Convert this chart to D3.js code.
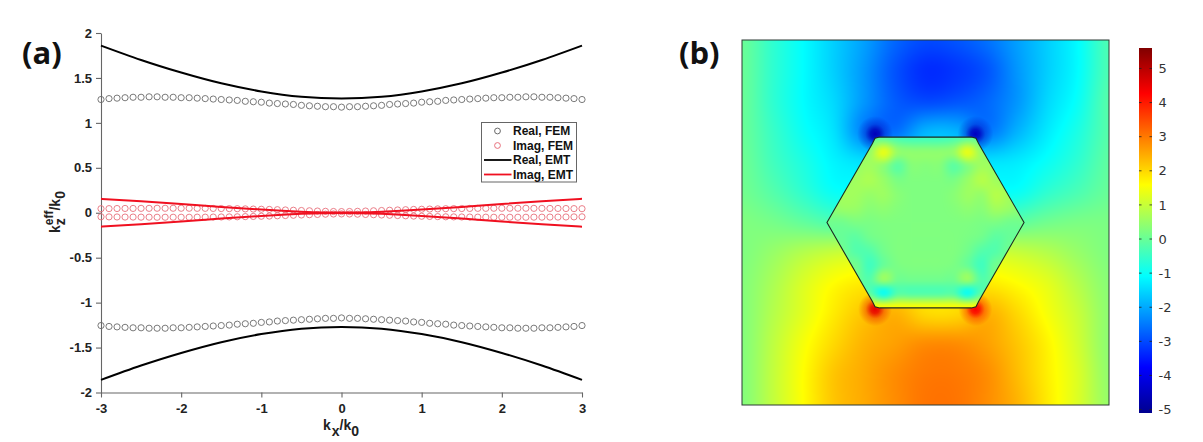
<!DOCTYPE html>
<html>
<head>
<meta charset="utf-8">
<script src="https://cdn.jsdelivr.net/npm/d3@7"></script>
<style>
html,body{margin:0;padding:0;background:#fff;overflow:hidden}
svg{display:block}
text{font-family:"Liberation Sans",Arial,sans-serif}
</style>
</head>
<body>
<svg id="chart" width="1203" height="442"></svg>
<script>
// ---------- panel (a) data ----------
const kxFem = [-3,-2.9,-2.8,-2.7,-2.6,-2.5,-2.4,-2.3,-2.2,-2.1,-2,-1.9,-1.8,-1.7,-1.6,-1.5,-1.4,-1.3,-1.2,-1.1,-1,-0.9,-0.8,-0.7,-0.6,-0.5,-0.4,-0.3,-0.2,-0.1,0,0.1,0.2,0.3,0.4,0.5,0.6,0.7,0.8,0.9,1,1.1,1.2,1.3,1.4,1.5,1.6,1.7,1.8,1.9,2,2.1,2.2,2.3,2.4,2.5,2.6,2.7,2.8,2.9,3];
const realFemUpper = [1.26,1.27,1.275,1.28,1.285,1.285,1.29,1.29,1.285,1.285,1.28,1.28,1.275,1.27,1.265,1.26,1.255,1.25,1.24,1.235,1.23,1.22,1.215,1.21,1.205,1.195,1.19,1.185,1.18,1.18,1.175,1.18,1.18,1.185,1.19,1.195,1.205,1.21,1.215,1.22,1.23,1.235,1.24,1.25,1.255,1.26,1.265,1.27,1.275,1.28,1.28,1.285,1.285,1.29,1.29,1.285,1.285,1.28,1.275,1.27,1.26];
const realFemLower = [-1.255,-1.265,-1.27,-1.275,-1.28,-1.28,-1.285,-1.285,-1.285,-1.28,-1.28,-1.275,-1.27,-1.265,-1.26,-1.255,-1.25,-1.24,-1.235,-1.23,-1.22,-1.215,-1.205,-1.2,-1.195,-1.19,-1.185,-1.18,-1.175,-1.175,-1.17,-1.175,-1.175,-1.18,-1.185,-1.19,-1.195,-1.2,-1.205,-1.215,-1.22,-1.23,-1.235,-1.24,-1.25,-1.255,-1.26,-1.265,-1.27,-1.275,-1.28,-1.28,-1.285,-1.285,-1.285,-1.28,-1.28,-1.275,-1.27,-1.265,-1.255];
const imagFemUpper = [0.045,0.046,0.047,0.048,0.048,0.049,0.049,0.05,0.05,0.05,0.05,0.05,0.049,0.049,0.048,0.047,0.046,0.045,0.043,0.041,0.039,0.037,0.034,0.031,0.028,0.025,0.022,0.019,0.016,0.014,0.013,0.014,0.016,0.019,0.022,0.025,0.028,0.031,0.034,0.037,0.039,0.041,0.043,0.045,0.046,0.047,0.048,0.049,0.049,0.05,0.05,0.05,0.05,0.05,0.049,0.049,0.048,0.048,0.047,0.046,0.045];
const imagFemLower = [-0.045,-0.046,-0.047,-0.048,-0.048,-0.049,-0.049,-0.05,-0.05,-0.05,-0.05,-0.05,-0.049,-0.049,-0.048,-0.047,-0.046,-0.045,-0.043,-0.041,-0.039,-0.037,-0.034,-0.031,-0.028,-0.025,-0.022,-0.019,-0.016,-0.014,-0.013,-0.014,-0.016,-0.019,-0.022,-0.025,-0.028,-0.031,-0.034,-0.037,-0.039,-0.041,-0.043,-0.045,-0.046,-0.047,-0.048,-0.049,-0.049,-0.05,-0.05,-0.05,-0.05,-0.05,-0.049,-0.049,-0.048,-0.048,-0.047,-0.046,-0.045];
const kxEmt = [-3,-2.5,-2,-1.5,-1,-0.5,0,0.5,1,1.5,2,2.5,3];
const realEmtUpper = [1.86,1.7,1.56,1.44,1.35,1.29,1.27,1.29,1.35,1.44,1.56,1.7,1.86];
const realEmtLower = [-1.86,-1.7,-1.56,-1.44,-1.35,-1.29,-1.27,-1.29,-1.35,-1.44,-1.56,-1.7,-1.86];
const imagEmtUpper = [0.155,0.127,0.097,0.065,0.035,0.012,0.002,0.012,0.035,0.065,0.097,0.127,0.155];
const imagEmtLower = [-0.155,-0.127,-0.097,-0.065,-0.035,-0.012,-0.002,-0.012,-0.035,-0.065,-0.097,-0.127,-0.155];
const xTicksA = [-3,-2,-1,0,1,2,3];
const yTicksA = [-2,-1.5,-1,-0.5,0,0.5,1,1.5,2];
const legendLabels = ["Real, FEM","Imag, FEM","Real, EMT","Imag, EMT"];

// ---------- panel (b) data ----------
// field outside the hexagon, rows top to bottom
const fieldOuter = [
[0.0,-0.6,-1.1,-1.6,-2.1,-2.7,-3.0,-2.9,-2.6,-2.1,-1.6,-1.1,-0.3],
[0.0,-0.6,-1.1,-1.6,-2.2,-2.9,-3.3,-3.2,-2.9,-2.2,-1.6,-1.1,-0.3],
[0.0,-0.6,-1.1,-1.5,-2.2,-2.8,-3.0,-2.9,-2.7,-2.2,-1.5,-1.0,-0.2],
[0.0,-0.5,-1.0,-1.4,-2.4,-2.6,-1.9,-1.9,-2.5,-1.9,-1.3,-0.8,-0.2],
[0.05,-0.4,-0.8,-1.2,-1.4,-1.4,-1.4,-1.4,-1.4,-1.3,-1.0,-0.6,-0.1],
[0.1,-0.2,-0.6,-1.0,-1.0,-1.0,-1.0,-1.0,-1.0,-1.0,-0.6,-0.3,0.0],
[0.25,0.15,-0.05,-0.25,-0.2,-0.2,-0.2,-0.2,-0.2,-0.1,0.1,0.2,0.2],
[0.25,0.5,0.8,1.0,1.1,1.1,1.1,1.1,1.1,1.0,0.8,0.5,0.25],
[0.3,0.7,1.2,1.6,1.8,1.8,1.8,1.8,1.8,1.6,1.3,0.8,0.35],
[0.3,0.8,1.3,1.8,2.2,2.4,2.0,2.0,2.4,2.0,1.5,1.0,0.4],
[0.3,0.9,1.5,2.0,2.4,2.6,2.8,2.8,2.6,2.2,1.7,1.1,0.4],
[0.3,0.95,1.6,2.2,2.5,2.8,3.0,3.0,2.8,2.3,1.75,1.2,0.45],
[0.3,0.95,1.6,2.2,2.5,2.8,3.05,3.05,2.8,2.4,1.8,1.2,0.5]
];
// field inside the hexagon, rows top to bottom
const fieldInner = [
[0.5,0.5,0.5,0.0,-0.1,-0.3,-0.4,-0.4,-0.4,-0.3,-0.1,0.0,0.5,0.5,0.5],
[0.5,0.5,0.5,0.5,1.3,0.5,0.4,0.4,0.4,0.5,1.3,0.5,0.5,0.5,0.5],
[0.5,0.5,0.5,0.6,0.4,-0.1,0.3,0.3,0.3,-0.1,0.3,0.6,0.5,0.5,0.5],
[0.5,0.5,0.6,0.7,0.5,0.2,0.25,0.25,0.25,0.2,0.5,0.8,0.6,0.5,0.5],
[0.5,0.6,0.6,0.5,0.55,0.35,0.25,0.25,0.25,0.35,0.55,0.5,0.8,0.6,0.5],
[0.3,0.5,0.5,0.35,0.4,0.3,0.25,0.25,0.25,0.3,0.4,0.35,0.6,0.5,0.3],
[0.1,0.1,0.2,0.2,0.25,0.25,0.25,0.25,0.25,0.25,0.25,0.2,0.2,0.1,0.1],
[0.0,0.0,-0.1,0.1,0.2,0.25,0.25,0.25,0.25,0.25,0.2,0.1,-0.1,0.0,0.0],
[0.1,0.1,-0.2,-0.2,0.1,0.25,0.25,0.25,0.25,0.25,0.1,-0.2,-0.2,0.1,0.1],
[0.1,0.1,0.1,-0.4,0.0,0.2,0.25,0.25,0.25,0.2,0.0,-0.4,0.1,0.1,0.1],
[0.1,0.1,0.1,-0.2,0.5,0.1,0.1,0.1,0.1,0.1,0.5,-0.2,0.1,0.1,0.1],
[0.1,0.1,0.1,-0.1,-0.9,-0.2,-0.2,-0.2,-0.2,-0.2,-0.9,-0.1,0.1,0.1,0.1],
[1.6,1.6,1.6,1.6,1.6,1.6,1.6,1.6,1.6,1.6,1.6,1.6,1.6,1.6,1.6]
];
const hexagon = [[-0.537,0],[-0.29,0.432],[-0.275,0.462],[-0.25,0.468],[0.25,0.468],[0.275,0.462],[0.29,0.432],[0.537,0],[0.29,-0.432],[0.275,-0.462],[0.25,-0.468],[-0.25,-0.468],[-0.275,-0.462],[-0.29,-0.432]];
const hotspotX = [-0.275,0.272,-0.275,0.272];
const hotspotY = [0.485,0.485,-0.475,-0.475];
const hotspotValue = [-4.6,-4.5,4.5,4.3];
const colorTicks = [-5,-4,-3,-2,-1,0,1,2,3,4,5];
const jetStops = [-5.1,-3.76,-2.43,-1.09,1.59,2.93,4.26,5.6];
const jetColors = ["#00008f","#0000ff","#0080ff","#00ffff","#ffff00","#ff8000","#ff0000","#800000"];
const panelLabels = ["(a)","(b)"];

const svg = d3.select("#chart");

// ---------- panel (a) ----------
const xA = d3.scaleLinear().domain([-3,3]).range([101,582]);
const yA = d3.scaleLinear().domain([-2,2]).range([392.5,33]);
const axisColor = "#666";
const tickText = "#222";

const axB = svg.append("g").attr("transform","translate(0,392.5)")
  .call(d3.axisBottom(xA).tickValues(xTicksA).tickSize(5).tickSizeOuter(0).tickFormat(d => String(d)));
const axL = svg.append("g").attr("transform","translate(101,0)")
  .call(d3.axisLeft(yA).tickValues(yTicksA).tickSize(5).tickSizeOuter(0).tickFormat(d => String(d)));
[axB,axL].forEach(a => {
  a.selectAll("path,line").attr("stroke",axisColor).attr("stroke-width",1.1);
  a.selectAll("text").attr("fill",tickText).attr("font-size",13).attr("font-weight","bold")
   .style("font-family",'"Liberation Sans",Arial,sans-serif');
});
axB.selectAll("text").attr("dy","0.71em").attr("y",11);
axL.selectAll("text").attr("x",-9);

function circles(values, color, cls){
  svg.append("g").attr("class",cls).selectAll("circle").data(values).join("circle")
    .attr("cx",(d,i)=>xA(kxFem[i])).attr("cy",d=>yA(d)).attr("r",3.1)
    .attr("fill","none").attr("stroke",color).attr("stroke-width",0.9);
}
const grayMarker = "#6a6a6a", pinkMarker = "#e8707c";
circles(realFemUpper,grayMarker,"real-fem");
circles(realFemLower,grayMarker,"real-fem");
circles(imagFemUpper,pinkMarker,"imag-fem");
circles(imagFemLower,pinkMarker,"imag-fem");

const emtLine = d3.line().x((d,i)=>xA(kxEmt[i])).y(d=>yA(d)).curve(d3.curveNatural);
[[realEmtUpper,"#000"],[realEmtLower,"#000"],[imagEmtUpper,"#f01020"],[imagEmtLower,"#f01020"]].forEach(([v,c])=>{
  svg.append("path").attr("d",emtLine(v)).attr("fill","none").attr("stroke",c).attr("stroke-width",2);
});

// axis titles
const xt = svg.append("text").attr("x",341).attr("y",430).attr("text-anchor","middle")
  .attr("fill",tickText).attr("font-size",14).attr("font-weight","bold");
xt.append("tspan").text("k");
xt.append("tspan").text("x").attr("dy",6).attr("dx",1);
xt.append("tspan").text("/k").attr("dy",-6);
xt.append("tspan").text("0").attr("dy",6);
const yt = svg.append("text").attr("transform","translate(60,212) rotate(-90)").attr("text-anchor","middle")
  .attr("fill",tickText).attr("font-size",14).attr("font-weight","bold");
yt.append("tspan").text("k");
yt.append("tspan").text("z").attr("dy",5);
yt.append("tspan").text("eff").attr("dy",-12).attr("dx",-7).attr("font-size",12);
yt.append("tspan").text("/k").attr("dy",7);
yt.append("tspan").text("0").attr("dy",5);

// legend
const legend = svg.append("g");
legend.append("rect").attr("x",481.5).attr("y",122.5).attr("width",95).attr("height",59.5)
  .attr("fill","#fff").attr("stroke","#666").attr("stroke-width",1);
const legendY = d3.scalePoint().domain(legendLabels).range([131,174.5]);
legendLabels.forEach((t,i)=>{
  const y = legendY(t);
  if(i<2){
    legend.append("circle").attr("cx",497.5).attr("cy",y).attr("r",2.9).attr("fill","none")
      .attr("stroke",i==0?grayMarker:pinkMarker).attr("stroke-width",1);
  } else {
    legend.append("line").attr("x1",484).attr("x2",511.5).attr("y1",y).attr("y2",y)
      .attr("stroke",i==2?"#000":"#f01020").attr("stroke-width",1.8);
  }
  legend.append("text").attr("x",513).attr("y",y+4).attr("font-size",12).attr("font-weight","bold")
    .attr("fill","#111").text(t);
});

// panel labels
svg.selectAll("text.panel").data(panelLabels).join("text").attr("class","panel")
  .attr("x",(d,i)=>[22,679][i]).attr("y",64)
  .style("font-family",'"Open Sans","Noto Sans",sans-serif')
  .attr("font-size",31).attr("font-weight","bold").attr("fill","#111").text(d=>d);

// ---------- panel (b) ----------
const jet = d3.scaleLinear().domain(jetStops).range(jetColors).clamp(true);
const fx = d3.scaleLinear().domain([-1,1]).range([742,1109]);
const fy = d3.scaleLinear().domain([-1,1]).range([405,40]);

function cr(p0,p1,p2,p3,t){
  return 0.5*((2*p1)+(-p0+p2)*t+(2*p0-5*p1+4*p2-p3)*t*t+(-p0+3*p1-3*p2+p3)*t*t*t);
}
function sample(grid,u,v){
  const R=grid.length,C=grid[0].length;
  const gu=Math.max(0,Math.min(C-1.0001,u*(C-1))),gv=Math.max(0,Math.min(R-1.0001,v*(R-1)));
  const i=Math.floor(gu),j=Math.floor(gv),tu=gu-i,tv=gv-j;
  const row=r=>{
    const a=grid[Math.max(0,Math.min(R-1,r))];
    return cr(a[Math.max(0,i-1)],a[i],a[Math.min(C-1,i+1)],a[Math.min(C-1,i+2)],tu);
  };
  return cr(row(j-1),row(j),row(j+1),row(j+2),tv);
}
function bitmap(grid,w,h){
  const c=document.createElement("canvas");c.width=w;c.height=h;
  const ctx=c.getContext("2d"),im=ctx.createImageData(w,h);
  for(let y=0;y<h;y++)for(let x=0;x<w;x++){
    const col=d3.rgb(jet(sample(grid,x/(w-1),y/(h-1))));
    const k=4*(y*w+x);im.data[k]=col.r;im.data[k+1]=col.g;im.data[k+2]=col.b;im.data[k+3]=255;
  }
  ctx.putImageData(im,0,0);
  return c.toDataURL();
}
const defs = svg.append("defs");
const hexPath = d3.line().x(d=>fx(d[0])).y(d=>fy(d[1])).curve(d3.curveLinearClosed)(hexagon);
defs.append("clipPath").attr("id","hexclip").append("path").attr("d",hexPath);
const W=Math.round(fx(1)-fx(-1)),H=Math.round(fy(-1)-fy(1));
svg.append("image").attr("x",fx(-1)).attr("y",fy(1)).attr("width",W).attr("height",H)
  .attr("preserveAspectRatio","none").attr("href",bitmap(fieldOuter,W,H));

hotspotValue.forEach((v,i)=>{
  const g=defs.append("radialGradient").attr("id","hot"+i);
  const c=jet(v);
  g.append("stop").attr("offset","0%").attr("stop-color",c).attr("stop-opacity",1);
  g.append("stop").attr("offset","25%").attr("stop-color",c).attr("stop-opacity",0.85);
  g.append("stop").attr("offset","55%").attr("stop-color",c).attr("stop-opacity",0.35);
  g.append("stop").attr("offset","100%").attr("stop-color",c).attr("stop-opacity",0);
  svg.append("circle").attr("cx",fx(hotspotX[i])).attr("cy",fy(hotspotY[i])).attr("r",v<0?18:17)
    .attr("fill",`url(#hot${i})`);
});

const ix0=fx(-0.537),ix1=fx(0.537),iy0=fy(0.468),iy1=fy(-0.468);
svg.append("image").attr("x",ix0).attr("y",iy0).attr("width",ix1-ix0).attr("height",iy1-iy0)
  .attr("preserveAspectRatio","none").attr("clip-path","url(#hexclip)")
  .attr("href",bitmap(fieldInner,Math.round(ix1-ix0),Math.round(iy1-iy0)));
svg.append("path").attr("d",hexPath).attr("fill","none").attr("stroke","#1c2a20").attr("stroke-width",1.1);
svg.append("rect").attr("x",fx(-1)).attr("y",fy(1)).attr("width",W).attr("height",H)
  .attr("fill","none").attr("stroke","#2c3a34").attr("stroke-width",1);

// colour bar
const yC = d3.scaleLinear().domain([-5.1,5.6]).range([413,48]);
const grad = defs.append("linearGradient").attr("id","jetbar").attr("x1",0).attr("x2",0).attr("y1",1).attr("y2",0);
jetStops.forEach((s,i)=>grad.append("stop")
  .attr("offset",(s+5.1)/10.7).attr("stop-color",jetColors[i]));
svg.append("rect").attr("x",1139).attr("y",yC(5.6)).attr("width",13).attr("height",yC(-5.1)-yC(5.6))
  .attr("fill","url(#jetbar)");
const axC = svg.append("g").attr("transform","translate(1152,0)")
  .call(d3.axisRight(yC).tickValues(colorTicks).tickSize(0).tickSizeOuter(0).tickFormat(d=>String(d)));
axC.select("path").remove();
axC.selectAll("text").attr("x",6.5).attr("fill","#333").attr("font-size",13)
  .style("font-family",'"DejaVu Sans",sans-serif');
const tickG = svg.append("g").attr("stroke","#222").attr("stroke-width",0.8);
colorTicks.forEach(t=>{
  tickG.append("line").attr("x1",1139).attr("x2",1141.5).attr("y1",yC(t)).attr("y2",yC(t));
  tickG.append("line").attr("x1",1149.5).attr("x2",1152).attr("y1",yC(t)).attr("y2",yC(t));
});
</script>
</body>
</html>
